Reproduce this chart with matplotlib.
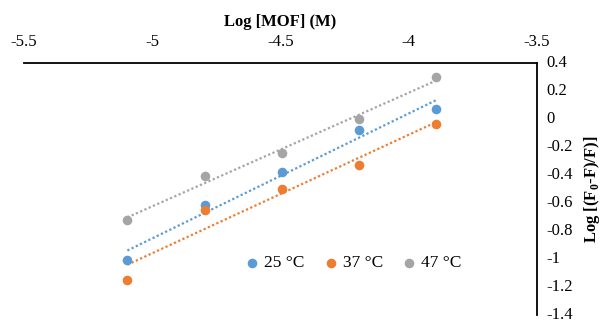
import numpy as np
import matplotlib
matplotlib.use('Agg')
import matplotlib.pyplot as plt
from matplotlib.transforms import ScaledTranslation

plt.rcParams['font.family'] = ['Liberation Serif', 'DejaVu Serif']
plt.rcParams['mathtext.fontset'] = 'custom'
plt.rcParams['mathtext.rm'] = 'Liberation Serif'
plt.rcParams['mathtext.bf'] = 'Liberation Serif:bold'

# data
log_mof = [-5.097, -4.796, -4.495, -4.194, -3.893]
y_25 = [-1.005, -0.617, -0.379, -0.079, 0.069]
y_37 = [-1.148, -0.648, -0.498, -0.329, -0.034]
y_47 = [-0.719, -0.405, -0.246, 0.000, 0.300]

series = [
    ('25 °C', y_25, '#5B9BD5'),
    ('37 °C', y_37, '#ED7D31'),
    ('47 °C', y_47, '#A5A5A5'),
]

fig = plt.figure(figsize=(6.13, 3.23), dpi=100)
ax = fig.add_axes([24 / 613, 1 - 315 / 323, 513 / 613, 252 / 323])

x = np.array(log_mof)
for label, y, color in series:
    ax.scatter(x, y, s=48, color=color, label=label, zorder=3, linewidths=0)
    k, b = np.polyfit(x, y, 1)
    xs = np.array([x.min(), x.max()])
    ax.plot(xs, k * xs + b, color=color, lw=1.6, linestyle=(0, (1, 1.1)),
            dash_capstyle='butt', zorder=2)

ax.set_xlim(-5.5, -3.5)
ax.set_ylim(-1.4, 0.4)
ax.set_xticks([-5.5, -5, -4.5, -4, -3.5])
ax.set_xticklabels(['-5.5', '-5', '-4.5', '-4', '-3.5'])
ax.set_yticks(np.round(np.arange(-1.4, 0.41, 0.2), 1))
ax.set_yticklabels(['-1.4', '-1.2', '-1', '-0.8', '-0.6', '-0.4', '-0.2', '0', '0.2', '0.4'])

ax.xaxis.tick_top()
ax.yaxis.tick_right()
ax.xaxis.set_label_position('top')
ax.yaxis.set_label_position('right')
ax.tick_params(length=0, labelsize=12, colors='#000000')
ax.tick_params(axis='x', pad=9)
ax.tick_params(axis='y', pad=7)

# nudge the right-hand labels up a little so the lowest one stays inside
shift = ScaledTranslation(0, 2 / 100, fig.dpi_scale_trans)
for lbl in ax.get_yticklabels():
    lbl.set_transform(lbl.get_transform() + shift)

for side in ['left', 'bottom']:
    ax.spines[side].set_visible(False)
for side in ['top', 'right']:
    ax.spines[side].set_linewidth(1.3)
    ax.spines[side].set_color('#000000')

ax.set_xlabel('Log [MOF] (M)', fontsize=12, fontweight='bold', labelpad=6)
ax.set_ylabel(r'Log [(F$_\mathbf{0}$-F)/F)]', fontsize=12, fontweight='bold',
              labelpad=6)

ax.legend(loc='center', bbox_to_anchor=(0.632, 0.205), ncol=3, frameon=False,
          fontsize=12.5, handletextpad=-0.3, columnspacing=0.5, markerscale=1.0,
          borderpad=0)

fig.savefig('out.png', dpi=100)
